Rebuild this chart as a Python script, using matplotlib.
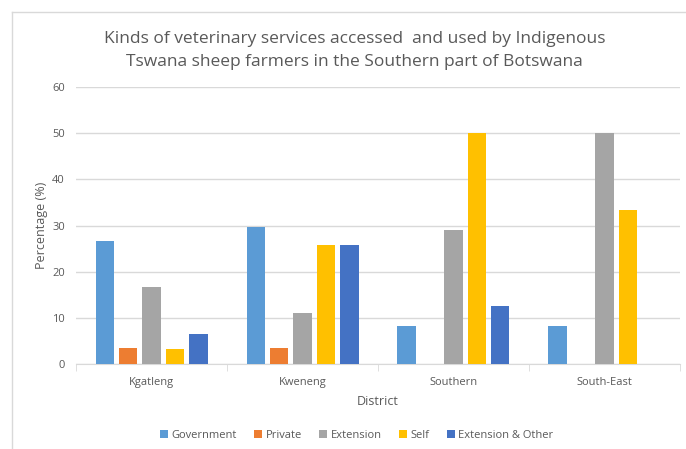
import numpy as np
import matplotlib.pyplot as plt
from matplotlib.lines import Line2D

districts = ['Kgatleng', 'Kweneng', 'Southern', 'South-East']
services = ['Government', 'Private', 'Extension', 'Self', 'Extension & Other']
government = [26.7, 29.6, 8.2, 8.3]
private = [3.6, 3.6, 0, 0]
extension = [16.7, 11.1, 29.1, 50.0]
self_help = [3.2, 25.9, 50.0, 33.3]
ext_other = [6.6, 25.9, 12.5, 0]
series = [government, private, extension, self_help, ext_other]
colors = ['#5B9BD5', '#ED7D31', '#A5A5A5', '#FFC000', '#4472C4']

plt.rcParams['font.family'] = ['Open Sans', 'DejaVu Sans']

fig = plt.figure(figsize=(6.86, 4.49), dpi=100)
ax = fig.add_axes([0.111, 0.189, 0.880, 0.617])

# chart area border (top and left edges visible in the reference crop)
fx, fy = 12 / 686, 1 - 12 / 449
fig.add_artist(Line2D([fx, 1], [fy, fy], color='#D9D9D9', lw=1, transform=fig.transFigure))
fig.add_artist(Line2D([fx, fx], [0, fy], color='#D9D9D9', lw=1, transform=fig.transFigure))

x = np.arange(len(districts))
step = 0.155
width = 0.122
for i, vals in enumerate(series):
    ax.bar(x + (i - 2) * step, vals, width, color=colors[i], label=services[i], zorder=3)

ax.set_xlim(-0.5, 3.5)
ax.set_ylim(0, 60)
ax.set_yticks(range(0, 61, 10))
ax.set_xticks(x)
ax.set_xticklabels(districts)
ax.grid(axis='y', color='#D9D9D9', linewidth=1, zorder=0)
for s in ['top', 'right', 'left']:
    ax.spines[s].set_visible(False)
ax.spines['bottom'].set_color('#D9D9D9')
ax.set_xticks([-0.5, 0.5, 1.5, 2.5, 3.5], minor=True)
ax.tick_params(axis='x', which='major', length=0, pad=9)
ax.tick_params(axis='x', which='minor', length=5, color='#D9D9D9')
ax.tick_params(axis='y', length=0, pad=8)
ax.tick_params(labelsize=8, labelcolor='#595959')

ax.set_xlabel('District', fontsize=9, color='#595959', labelpad=5)
ax.set_ylabel('Percentage (%)', fontsize=9, color='#595959', labelpad=3)

fig.text(0.517, 0.888, 'Kinds of veterinary services accessed  and used by Indigenous\n'
         'Tswana sheep farmers in the Southern part of Botswana',
         ha='center', va='center', fontsize=12.5, color='#595959', linespacing=1.6)

fig.legend(loc='center', bbox_to_anchor=(0.52, 0.03), ncol=5, frameon=False,
           fontsize=8, handlelength=0.7, handleheight=0.7, handletextpad=0.3,
           columnspacing=1.6, labelcolor='#595959')

fig.savefig('out.png', dpi=100)
